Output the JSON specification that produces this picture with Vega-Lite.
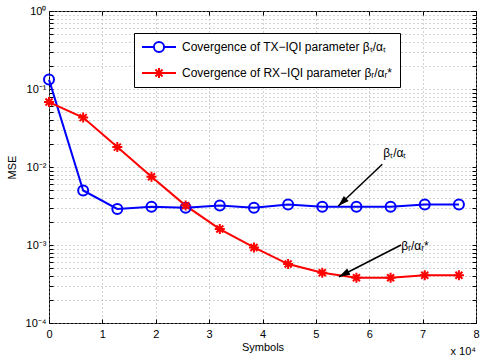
{
  "$schema": "https://vega.github.io/schema/vega-lite/v6.json",
  "width": 427,
  "height": 312,
  "autosize": "none",
  "padding": {"left": 49, "top": 11, "right": 9, "bottom": 38},
  "background": "white",
  "config": {
    "font": "Liberation Sans",
    "view": {"stroke": "black", "strokeWidth": 1},
    "axis": {"domain": false, "labelColor": "black", "titleColor": "black", "labelFontSize": 11, "titleFontSize": 11, "titleFontWeight": "normal", "tickColor": "black", "gridColor": "#a8a8a8", "gridDash": [1, 3], "labelFont": "Liberation Sans", "titleFont": "Liberation Sans"}
  },
  "datasets": {
    "mse": [
      {"symbols": 0, "mse": 0.132, "series": "TX"},
      {"symbols": 6400, "mse": 0.0050, "series": "TX"},
      {"symbols": 12800, "mse": 0.0029, "series": "TX"},
      {"symbols": 19200, "mse": 0.0031, "series": "TX"},
      {"symbols": 25600, "mse": 0.0030, "series": "TX"},
      {"symbols": 32000, "mse": 0.0032, "series": "TX"},
      {"symbols": 38400, "mse": 0.0030, "series": "TX"},
      {"symbols": 44800, "mse": 0.0033, "series": "TX"},
      {"symbols": 51200, "mse": 0.0031, "series": "TX"},
      {"symbols": 57600, "mse": 0.0031, "series": "TX"},
      {"symbols": 64000, "mse": 0.0031, "series": "TX"},
      {"symbols": 70400, "mse": 0.0033, "series": "TX"},
      {"symbols": 76800, "mse": 0.0033, "series": "TX"},
      {"symbols": 0, "mse": 0.068, "series": "RX"},
      {"symbols": 6400, "mse": 0.043, "series": "RX"},
      {"symbols": 12800, "mse": 0.018, "series": "RX"},
      {"symbols": 19200, "mse": 0.0075, "series": "RX"},
      {"symbols": 25600, "mse": 0.0032, "series": "RX"},
      {"symbols": 32000, "mse": 0.0016, "series": "RX"},
      {"symbols": 38400, "mse": 0.00093, "series": "RX"},
      {"symbols": 44800, "mse": 0.00057, "series": "RX"},
      {"symbols": 51200, "mse": 0.00044, "series": "RX"},
      {"symbols": 57600, "mse": 0.00038, "series": "RX"},
      {"symbols": 64000, "mse": 0.00038, "series": "RX"},
      {"symbols": 70400, "mse": 0.00041, "series": "RX"},
      {"symbols": 76800, "mse": 0.00041, "series": "RX"}
    ]
  },
  "resolve": {"axis": {"x": "independent", "y": "independent"}},
  "layer": [
    {
      "data": {"name": "mse"},
      "mark": {"type": "line", "strokeWidth": 2},
      "encoding": {
        "x": {"field": "symbols", "type": "quantitative", "title": "Symbols",
          "scale": {"domain": [0, 80000], "nice": false, "zero": false},
          "axis": {"values": [0, 10000, 20000, 30000, 40000, 50000, 60000, 70000, 80000], "labelExpr": "datum.value / 10000", "tickSize": -4, "labelPadding": 9, "titlePadding": 2, "grid": true, "labelFlush": false}},
        "y": {"field": "mse", "type": "quantitative", "title": "MSE",
          "scale": {"type": "log", "domain": [0.0001, 1], "nice": false},
          "axis": {"values": [0.0001,0.0002,0.0003,0.0004,0.0005,0.0006,0.0007,0.0008,0.0009,0.001,0.002,0.003,0.004,0.005,0.006,0.007,0.008,0.009,0.01,0.02,0.03,0.04,0.05,0.06,0.07,0.08,0.09,0.1,0.2,0.3,0.4,0.5,0.6,0.7,0.8,0.9,1],
            "labelExpr": "datum.value == 1 ? '10⁰' : datum.value == 0.1 ? '10⁻¹' : datum.value == 0.01 ? '10⁻²' : datum.value == 0.001 ? '10⁻³' : datum.value == 0.0001 ? '10⁻⁴' : ''",
            "labelOverlap": false, "labelBound": false, "labelFlush": false, "tickSize": -4, "labelPadding": 7, "titlePadding": 8, "grid": true}},
        "color": {"field": "series", "type": "nominal",
          "scale": {"domain": ["TX", "RX"], "range": ["#0000ff", "#ff0000"]},
          "legend": {
            "orient": "none", "legendX": 85, "legendY": 22, "title": null,
            "labelExpr": "datum.value == 'TX' ? 'Covergence of TX−IQI parameter βₜ/αₜ' : 'Covergence of RX−IQI parameter βᵣ/αᵣ*'",
            "labelFontSize": 12, "labelColor": "black", "labelFont": "Liberation Sans",
            "strokeColor": "black", "fillColor": "white", "padding": 7,
            "symbolSize": 1156, "clipHeight": 14, "rowPadding": 12, "symbolOffset": 0, "labelOffset": 5, "labelLimit": 400,
            "symbolStrokeWidth": 2,
            "encode": {"symbols": {"update": {
              "shape": {"signal": "datum.value == 'TX' ? 'M-1,0H-0.3M0.3,0H1M0.3,0A0.3,0.3 0 1,1 -0.3,0A0.3,0.3 0 1,1 0.3,0' : 'M-1,0H1M0,-0.3V0.3M-0.3,0H0.3M-0.21,-0.21L0.21,0.21M-0.21,0.21L0.21,-0.21'"},
              "fill": {"value": "transparent"},
              "strokeWidth": {"value": 2}
            }}}
          }}
      }
    },
    {
      "data": {"name": "mse"},
      "transform": [{"filter": "datum.series == 'TX'"}],
      "mark": {"type": "point", "shape": "circle", "filled": false, "strokeWidth": 2, "size": 100, "opacity": 1},
      "encoding": {
        "x": {"field": "symbols", "type": "quantitative", "axis": {"orient": "top", "values": [0, 10000, 20000, 30000, 40000, 50000, 60000, 70000, 80000], "labels": false, "title": null, "grid": false, "tickSize": -4}},
        "y": {"field": "mse", "type": "quantitative", "axis": {"orient": "right", "values": [0.0001,0.0002,0.0003,0.0004,0.0005,0.0006,0.0007,0.0008,0.0009,0.001,0.002,0.003,0.004,0.005,0.006,0.007,0.008,0.009,0.01,0.02,0.03,0.04,0.05,0.06,0.07,0.08,0.09,0.1,0.2,0.3,0.4,0.5,0.6,0.7,0.8,0.9,1], "labels": false, "title": null, "grid": false, "tickSize": -4}},
        "color": {"field": "series", "type": "nominal"}
      }
    },
    {
      "data": {"name": "mse"},
      "transform": [{"filter": "datum.series == 'RX'"}],
      "mark": {"type": "point", "shape": "M-1,0H1M0,-1V1M-0.7,-0.7L0.7,0.7M-0.7,0.7L0.7,-0.7", "filled": false, "strokeWidth": 2, "size": 100, "opacity": 1},
      "encoding": {
        "x": {"field": "symbols", "type": "quantitative", "axis": null},
        "y": {"field": "mse", "type": "quantitative", "axis": null},
        "color": {"field": "series", "type": "nominal"}
      }
    },
    {
      "data": {"values": [
        {"x": 62450, "y": 0.01083, "x2": 54200, "y2": 0.00316},
        {"x": 65950, "y": 0.001, "x2": 54330, "y2": 0.000392}
      ]},
      "mark": {"type": "rule", "color": "black", "strokeWidth": 1.5},
      "encoding": {
        "x": {"field": "x", "type": "quantitative", "axis": null},
        "y": {"field": "y", "type": "quantitative", "axis": null},
        "x2": {"field": "x2"},
        "y2": {"field": "y2"}
      }
    },
    {
      "data": {"values": [{"x": 54200, "y": 0.00316}]},
      "mark": {"type": "point", "filled": true, "color": "black", "opacity": 1, "size": 100, "angle": 226.5, "shape": "M0,0L-0.7,2.2L0.7,2.2Z"},
      "encoding": {
        "x": {"field": "x", "type": "quantitative", "axis": null},
        "y": {"field": "y", "type": "quantitative", "axis": null}
      }
    },
    {
      "data": {"values": [{"x": 54330, "y": 0.000392}]},
      "mark": {"type": "point", "filled": true, "color": "black", "opacity": 1, "size": 100, "angle": 242.9, "shape": "M0,0L-0.7,2.2L0.7,2.2Z"},
      "encoding": {
        "x": {"field": "x", "type": "quantitative", "axis": null},
        "y": {"field": "y", "type": "quantitative", "axis": null}
      }
    },
    {
      "data": {"values": [
        {"x": 64800, "y": 0.0150, "label": "βₜ/αₜ"},
        {"x": 68570, "y": 0.00097, "label": "βᵣ/αᵣ*"}
      ]},
      "mark": {"type": "text", "fontSize": 12, "font": "Liberation Sans", "color": "black", "align": "center", "baseline": "middle"},
      "encoding": {
        "x": {"field": "x", "type": "quantitative", "axis": null},
        "y": {"field": "y", "type": "quantitative", "axis": null},
        "text": {"field": "label"}
      }
    },
    {
      "data": {"values": [{"label": "x 10⁴"}]},
      "mark": {"type": "text", "fontSize": 11, "font": "Liberation Sans", "color": "black", "align": "right", "baseline": "middle", "dy": 29},
      "encoding": {
        "x": {"datum": 80000, "type": "quantitative", "axis": null},
        "y": {"datum": 0.0001, "type": "quantitative", "axis": null},
        "text": {"field": "label"}
      }
    }
  ]
}
